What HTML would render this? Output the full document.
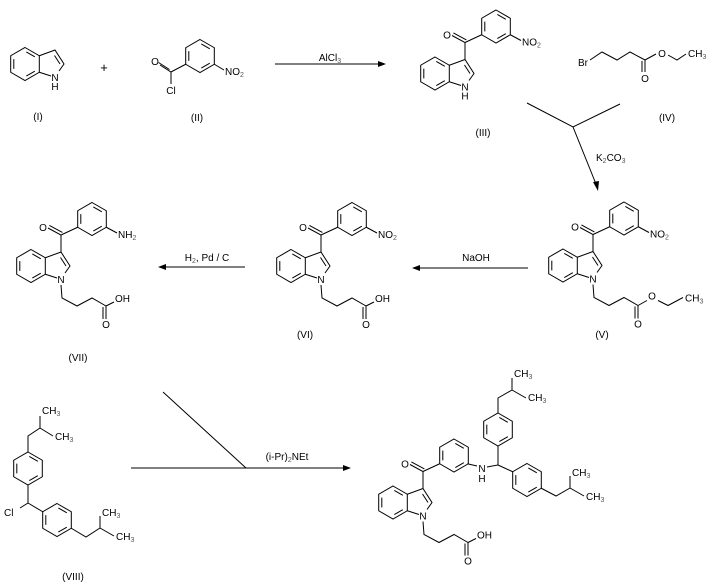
<!DOCTYPE html>
<html><head><meta charset="utf-8"><style>
html,body{margin:0;padding:0;background:#fff;}
svg{display:block;}
text{font-family:"Liberation Sans",sans-serif;font-size:10px;fill:#000;}
.s{font-size:7px;fill:#555;}
</style></head><body>
<svg width="710" height="585" viewBox="0 0 710 585" xmlns="http://www.w3.org/2000/svg">
<defs>
<g id="hx" fill="none" stroke="#000" stroke-width="1">
<polygon points="0,-16.5 14.3,-8.25 14.3,8.25 0,16.5 -14.3,8.25 -14.3,-8.25"/>
<path d="M1.3,-12.1 L9.8,-7.2 M9.8,7.2 L1.3,12.1 M-11.2,4.9 L-11.2,-4.9"/>
</g>
<g id="ind">
<use href="#hx"/>
<path d="M14.3,-8.25 L30,-14 L39,0 L34,7 M14.3,8.25 L26,12 M29.5,-8.5 L35,0" fill="none" stroke="#000"/>
<text x="30" y="17" text-anchor="middle">N</text>
</g>
<g id="core">
<use href="#ind"/>
<path d="M30,-14 L30,-31 L17,-38 M31.4,-33.6 L18.4,-40.6 M30,-31 L46.7,-38.75" fill="none" stroke="#000"/>
<text x="12" y="-35" text-anchor="middle">O</text>
<use href="#hx" transform="translate(61,-47)"/>
</g>
<g id="chain">
<path d="M30,19 L31,32 L46,40 L61,32 L75,40 L75,53 M72,41 L72,53 M75,40 L83,36" fill="none" stroke="#000"/>
<text x="75" y="62" text-anchor="middle">O</text>
</g>
<g id="nitro">
<path d="M75.3,-38.75 L86,-33" stroke="#000"/>
<text x="87" y="-28">NO<tspan class="s" dy="2">2</tspan></text>
</g>
<g id="arL"><polygon points="0,0 7,-2.5 7,2.5" fill="#000"/></g>
</defs>

<!-- (I) -->
<g transform="translate(25,64)"><use href="#ind"/><text x="30" y="26" text-anchor="middle">H</text></g>
<text x="104" y="72" text-anchor="middle" style="font-size:13px">+</text>
<text x="38" y="120" text-anchor="middle">(I)</text>

<!-- (II) -->
<use href="#hx" transform="translate(200,56)"/>
<path d="M185.7,64.25 L171,72 L160,65 M169.5,69.5 L158.5,62.5 M171,72 L171,84 M214.3,64.25 L224,70" fill="none" stroke="#000"/>
<text x="155" y="65" text-anchor="middle">O</text>
<text x="171" y="94" text-anchor="middle">Cl</text>
<text x="225" y="75">NO<tspan class="s" dy="2">2</tspan></text>
<text x="197" y="121" text-anchor="middle">(II)</text>

<!-- arrow 1 -->
<path d="M275,64 L380,64" stroke="#000"/>
<polygon points="386,64 378,61 378,67" fill="#000"/>
<text x="330" y="61" text-anchor="middle">AlCl<tspan class="s" dy="2">3</tspan></text>

<!-- (III) -->
<g transform="translate(435,73.5)"><use href="#core"/><use href="#nitro"/><text x="30" y="26" text-anchor="middle">H</text></g>
<text x="483" y="136" text-anchor="middle">(III)</text>

<!-- (IV) -->
<text x="578" y="66">Br</text>
<path d="M590,60 L602,52 L617,60 L630,52 L645,60 L656,54 M668,55 L677,60 L686,54 M645,60 L645,72 M642,61 L642,72" fill="none" stroke="#000"/>
<text x="662" y="57" text-anchor="middle">O</text>
<text x="645" y="82" text-anchor="middle">O</text>
<text x="688" y="57">CH<tspan class="s" dy="2">3</tspan></text>
<text x="667" y="121" text-anchor="middle">(IV)</text>

<!-- branched arrow -->
<path d="M527,103 L573,127 L620,104 M573,127 L596,184" fill="none" stroke="#000"/>
<polygon points="598,191 593,182 599,181" fill="#000"/>
<text x="596" y="161">K<tspan class="s" dy="2">2</tspan><tspan dy="-2">CO</tspan><tspan class="s" dy="2">3</tspan></text>

<!-- (V) -->
<g transform="translate(563,265.5)"><use href="#core"/><use href="#nitro"/>
<path d="M30,19 L31,32 L46,40 L61,32 L75,40 L75,53 M72,41 L72,53 M75,40 L84,35 M95,35 L105,40 L120,32" fill="none" stroke="#000"/>
<text x="75" y="62" text-anchor="middle">O</text>
<text x="89" y="34" text-anchor="middle">O</text>
<text x="122" y="36">CH<tspan class="s" dy="2">3</tspan></text>
</g>
<text x="602" y="338" text-anchor="middle">(V)</text>

<!-- NaOH arrow -->
<path d="M528,268 L418,268" stroke="#000"/>
<polygon points="412,268 420,265 420,271" fill="#000"/>
<text x="476" y="261" text-anchor="middle">NaOH</text>

<!-- (VI) -->
<g transform="translate(291,266)"><use href="#core"/><use href="#nitro"/><use href="#chain"/><text x="84" y="36">OH</text></g>
<text x="305" y="338" text-anchor="middle">(VI)</text>

<!-- H2 arrow -->
<path d="M245,267 L164,267" stroke="#000"/>
<polygon points="158,267 166,264 166,270" fill="#000"/>
<text x="207" y="261" text-anchor="middle">H<tspan class="s" dy="2">2</tspan><tspan dy="-2">, Pd / C</tspan></text>

<!-- (VII) -->
<g transform="translate(31,266)"><use href="#core"/>
<path d="M75.3,-38.75 L86,-33" stroke="#000"/>
<text x="87" y="-28">NH<tspan class="s" dy="2">2</tspan></text>
<use href="#chain"/><text x="84" y="36">OH</text></g>
<text x="78" y="361" text-anchor="middle">(VII)</text>

<!-- (VIII) -->
<use href="#hx" transform="translate(28,468.5)"/>
<use href="#hx" transform="translate(57,520)"/>
<path d="M28,452 L28,436 L40,428 L40,416 M40,428 L53,436 M28,485 L28,503 L20,508 M28,503 L42.7,511.75 M71.3,528.25 L86,537 L100,528 L100,516 M100,528 L114,536" fill="none" stroke="#000"/>
<text x="42" y="414">CH<tspan class="s" dy="2">3</tspan></text>
<text x="55" y="440">CH<tspan class="s" dy="2">3</tspan></text>
<text x="4" y="516">Cl</text>
<text x="102" y="516">CH<tspan class="s" dy="2">3</tspan></text>
<text x="116" y="540">CH<tspan class="s" dy="2">3</tspan></text>
<text x="73" y="580" text-anchor="middle">(VIII)</text>

<!-- bottom arrow -->
<path d="M131,468 L344,468 M163,392 L246,468" fill="none" stroke="#000"/>
<polygon points="351,468 343,465 343,471" fill="#000"/>
<text x="287" y="460" text-anchor="middle">(i-Pr)<tspan class="s" dy="2">2</tspan><tspan dy="-2">NEt</tspan></text>

<!-- product -->
<g transform="translate(393,502.5)"><use href="#core"/><use href="#chain"/><text x="84" y="36">OH</text></g>
<path d="M467.3,463.75 L477,466 M487,467 L498,465 L498,446 M498,413 L498,398 L512,390 L512,378 M512,390 L526,398 M498,465 L512.7,471.75 M541.3,488.25 L556,496 L570,488 L570,476 M570,488 L584,496" fill="none" stroke="#000"/>
<text x="482" y="472" text-anchor="middle">N</text>
<text x="482" y="482" text-anchor="middle">H</text>
<use href="#hx" transform="translate(498,429.5)"/>
<use href="#hx" transform="translate(527,480)"/>
<text x="514" y="377">CH<tspan class="s" dy="2">3</tspan></text>
<text x="528" y="401">CH<tspan class="s" dy="2">3</tspan></text>
<text x="572" y="476">CH<tspan class="s" dy="2">3</tspan></text>
<text x="586" y="500">CH<tspan class="s" dy="2">3</tspan></text>
</svg>
</body></html>
